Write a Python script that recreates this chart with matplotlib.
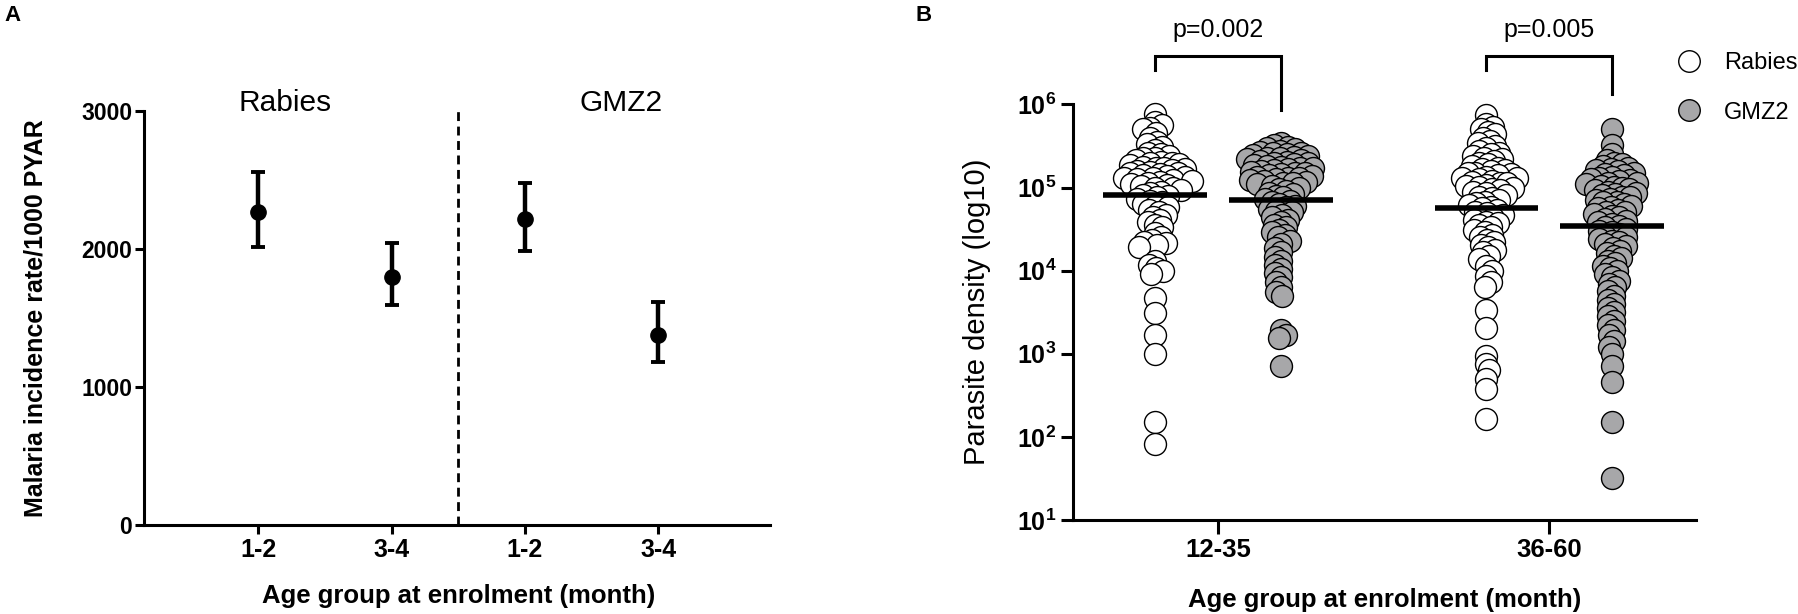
import numpy as np
import matplotlib
matplotlib.use('Agg')
import matplotlib.pyplot as plt
from matplotlib.lines import Line2D
from matplotlib.ticker import FixedLocator, FuncFormatter, NullLocator

plt.rcParams['font.family'] = ['Liberation Sans', 'DejaVu Sans']
plt.rcParams['mathtext.fontset'] = 'custom'
plt.rcParams['mathtext.rm'] = 'Liberation Sans'
plt.rcParams['mathtext.bf'] = 'Liberation Sans:bold'

# ---------------- Panel A data ----------------
a_group_names = ['Rabies', 'GMZ2']
a_ticklabels = ['1-2', '3-4', '1-2', '3-4']
a_rate = [2270, 1800, 2215, 1380]
a_low = [2015, 1595, 1985, 1185]
a_high = [2560, 2045, 2480, 1615]

# ---------------- Panel B data (log10 parasite density) ----------------
b_categories = ['12-35', '36-60']
b_series = ['Rabies', 'GMZ2']
rabies_12_35_log = [
    5.89, 5.79, 5.75, 5.72, 5.70, 5.66, 5.60, 5.55, 5.52, 5.49,
    5.45, 5.42, 5.40, 5.38, 5.36, 5.35, 5.33, 5.31, 5.30, 5.29,
    5.28, 5.27, 5.25, 5.24, 5.23, 5.22, 5.21, 5.20, 5.19, 5.18,
    5.17, 5.16, 5.15, 5.14, 5.13, 5.12, 5.11, 5.10, 5.09, 5.08,
    5.07, 5.05, 5.04, 5.03, 5.02, 5.00, 4.99, 4.97, 4.95, 4.93,
    4.91, 4.90, 4.88, 4.86, 4.84, 4.82, 4.80, 4.78, 4.76, 4.73,
    4.70, 4.67, 4.64, 4.61, 4.58, 4.55, 4.52, 4.45, 4.40, 4.37,
    4.35, 4.33, 4.31, 4.29, 4.12, 4.07, 4.03, 4.00, 3.96, 3.67,
    3.49, 3.23, 3.00, 2.18, 1.92]
gmz2_12_35_log = [
    5.53, 5.51, 5.49, 5.47, 5.46, 5.44, 5.43, 5.42, 5.41, 5.40,
    5.39, 5.38, 5.37, 5.36, 5.35, 5.34, 5.33, 5.32, 5.31, 5.30,
    5.29, 5.28, 5.27, 5.26, 5.25, 5.24, 5.23, 5.22, 5.21, 5.20,
    5.19, 5.18, 5.17, 5.16, 5.15, 5.14, 5.13, 5.12, 5.11, 5.10,
    5.09, 5.08, 5.07, 5.06, 5.05, 5.04, 5.02, 5.00, 4.98, 4.96,
    4.94, 4.92, 4.90, 4.88, 4.86, 4.84, 4.82, 4.80, 4.78, 4.76,
    4.74, 4.72, 4.70, 4.67, 4.64, 4.61, 4.58, 4.55, 4.52, 4.49,
    4.46, 4.43, 4.40, 4.36, 4.32, 4.27, 4.22, 4.17, 4.12, 4.07,
    4.02, 3.97, 3.92, 3.86, 3.80, 3.74, 3.69, 3.29, 3.22, 3.19,
    2.85]
rabies_36_60_log = [
    5.87, 5.76, 5.73, 5.70, 5.67, 5.64, 5.60, 5.56, 5.53, 5.50,
    5.47, 5.44, 5.42, 5.40, 5.38, 5.36, 5.34, 5.32, 5.30, 5.28,
    5.26, 5.24, 5.22, 5.21, 5.20, 5.18, 5.17, 5.16, 5.15, 5.13,
    5.12, 5.11, 5.10, 5.08, 5.07, 5.06, 5.05, 5.03, 5.02, 5.01,
    5.00, 4.98, 4.97, 4.95, 4.93, 4.91, 4.89, 4.87, 4.85, 4.83,
    4.81, 4.79, 4.77, 4.75, 4.73, 4.71, 4.69, 4.67, 4.65, 4.63,
    4.61, 4.59, 4.57, 4.55, 4.52, 4.49, 4.46, 4.43, 4.40, 4.37,
    4.34, 4.31, 4.28, 4.25, 4.22, 4.18, 4.14, 4.05, 3.99, 3.93,
    3.86, 3.80, 3.53, 3.31, 2.97, 2.88, 2.80, 2.70, 2.58, 2.22]
gmz2_36_60_log = [
    5.70, 5.51, 5.40, 5.33, 5.30, 5.28, 5.26, 5.24, 5.22, 5.21,
    5.20, 5.18, 5.16, 5.15, 5.13, 5.12, 5.10, 5.09, 5.08, 5.06,
    5.05, 5.04, 5.02, 5.01, 5.00, 4.98, 4.97, 4.95, 4.94, 4.92,
    4.91, 4.89, 4.88, 4.86, 4.85, 4.83, 4.82, 4.80, 4.78, 4.77,
    4.75, 4.73, 4.71, 4.70, 4.68, 4.66, 4.64, 4.62, 4.60, 4.58,
    4.56, 4.54, 4.52, 4.50, 4.48, 4.46, 4.44, 4.42, 4.40, 4.38,
    4.36, 4.34, 4.32, 4.30, 4.27, 4.24, 4.21, 4.18, 4.15, 4.12,
    4.09, 4.06, 4.03, 4.00, 3.96, 3.92, 3.88, 3.84, 3.80, 3.75,
    3.70, 3.65, 3.60, 3.55, 3.50, 3.45, 3.40, 3.35, 3.29, 3.22,
    3.15, 3.08, 3.00, 2.85, 2.66, 2.18, 1.50]
b_medians = [8.2e4, 7.0e4, 5.6e4, 3.45e4]   # Rabies 12-35, GMZ2 12-35, Rabies 36-60, GMZ2 36-60
p_labels = ['p=0.002', 'p=0.005']

GREY = '#a7a7a9'

# ---------------- Figure ----------------
fig = plt.figure(figsize=(17.99, 6.14), dpi=100)
SP = 2.2

# ---------------- Panel A ----------------
axA = fig.add_axes([0.080, 0.145, 0.348, 0.674])
xA = np.arange(len(a_rate))
rate = np.array(a_rate)
yerr = [rate - np.array(a_low), np.array(a_high) - rate]
axA.errorbar(xA, rate, yerr=yerr, fmt='o', color='black', ms=11,
             elinewidth=3.2, capsize=5, capthick=2.8, zorder=3)
axA.set_xlim(-0.86, 3.84)
axA.set_ylim(0, 3000)
axA.plot([1.5, 1.5], [0, 3000], color='black', lw=2, ls=(0, (3.2, 2.0)), zorder=2)
axA.text(0.2, 3060, a_group_names[0], fontsize=21.5, ha='center', va='center', clip_on=False)
axA.text(2.72, 3060, a_group_names[1], fontsize=21.5, ha='center', va='center', clip_on=False)
axA.set_xticks(xA)
axA.set_xticklabels(a_ticklabels)
axA.set_yticks([0, 1000, 2000, 3000])
for s in ['top', 'right']:
    axA.spines[s].set_visible(False)
for s in ['left', 'bottom']:
    axA.spines[s].set_linewidth(SP)
axA.tick_params(axis='y', width=SP, length=6.5, pad=2, labelsize=16.5)
axA.tick_params(axis='x', width=SP, length=6.5, pad=3, labelsize=18)
for lab in axA.get_xticklabels() + axA.get_yticklabels():
    lab.set_fontweight('bold')
axA.set_ylabel('Malaria incidence rate/1000 PYAR', fontsize=18, fontweight='bold')
axA.yaxis.set_label_coords(-0.1725, 0.5)
axA.yaxis.label.set_verticalalignment('center')
axA.set_xlabel('Age group at enrolment (month)', fontsize=18.5, fontweight='bold')
axA.xaxis.set_label_coords(0.503, -0.172)
axA.xaxis.label.set_verticalalignment('center')

# ---------------- Panel B ----------------
axB = fig.add_axes([0.5964, 0.153, 0.3464, 0.677])
axB.set_yscale('log')
axB.set_xlim(-0.438, 1.444)
axB.set_ylim(10, 1e6)
xB = np.arange(len(b_categories))
OFF = 0.19

groups = [
    (rabies_12_35_log, xB[0] - OFF, 'white'),
    (gmz2_12_35_log, xB[0] + OFF, GREY),
    (rabies_36_60_log, xB[1] - OFF, 'white'),
    (gmz2_36_60_log, xB[1] + OFF, GREY),
]

px_per_x = axB.transData.transform((1, 10))[0] - axB.transData.transform((0, 10))[0]


def swarm_offsets(values, D):
    vals = 10 ** np.asarray(values)
    ypix = axB.transData.transform(np.column_stack([np.ones(len(vals)), vals]))[:, 1]
    order = np.argsort(-ypix)
    px_l, py_l = [], []
    offs = np.zeros(len(vals))
    for k, i in enumerate(order):
        y = ypix[i]
        cands = [0.0]
        for px, py in zip(px_l, py_l):
            dy = y - py
            if abs(dy) < D:
                dx = np.sqrt(D * D - dy * dy)
                cands += [px + dx, px - dx]
        sgn = 1 if k % 2 == 0 else -1
        cands = sorted(cands, key=lambda c: (round(abs(c), 3), -sgn * np.sign(c)))
        chosen = 0.0
        for c in cands:
            if all((c - px) ** 2 + (y - py) ** 2 >= D * D - 1e-6 for px, py in zip(px_l, py_l)):
                chosen = c
                break
        offs[i] = chosen
        px_l.append(chosen)
        py_l.append(y)
    return offs / px_per_x


MS = 250
for vals, xc, fc in groups:
    offs = swarm_offsets(vals, 7.5)
    axB.scatter(xc + offs, 10 ** np.asarray(vals), s=MS, facecolor=fc,
                edgecolor='black', linewidth=1.0, zorder=3, clip_on=False)

centers = [xB[0] - OFF, xB[0] + OFF, xB[1] - OFF, xB[1] + OFF]
for xc, med in zip(centers, b_medians):
    axB.plot([xc - 0.156, xc + 0.156], [med, med], color='black', lw=4, zorder=5,
             solid_capstyle='butt')

# significance brackets
bracket_right_bottom = [8.6e5, 1.34e6]
for i, p in enumerate(p_labels):
    xl, xr = xB[i] - OFF, xB[i] + OFF
    axB.plot([xl, xl, xr, xr], [2.6e6, 3.8e6, 3.8e6, bracket_right_bottom[i]],
             color='black', lw=2.2, clip_on=False, solid_joinstyle='miter')
    axB.text((xl + xr) / 2, 7.8e6, p, fontsize=18, ha='center', va='center', clip_on=False)

for s in ['top', 'right']:
    axB.spines[s].set_visible(False)
for s in ['left', 'bottom']:
    axB.spines[s].set_linewidth(SP)
axB.set_xticks(xB)
axB.set_xticklabels(b_categories)
axB.yaxis.set_major_locator(FixedLocator([10.0 ** k for k in range(1, 7)]))
axB.yaxis.set_minor_locator(NullLocator())
axB.yaxis.set_major_formatter(FuncFormatter(lambda v, pos: r'$\mathbf{10^{%d}}$' % round(np.log10(v))))
axB.tick_params(axis='y', width=SP, length=9, pad=3, labelsize=18)
axB.tick_params(axis='x', width=SP, length=10, pad=3, labelsize=18.5)
for lab in axB.get_xticklabels():
    lab.set_fontweight('bold')
axB.set_ylabel('Parasite density (log10)', fontsize=21)
axB.yaxis.set_label_coords(-0.154, 0.5)
axB.yaxis.label.set_verticalalignment('center')
axB.set_xlabel('Age group at enrolment (month)', fontsize=18.5, fontweight='bold')
axB.xaxis.set_label_coords(0.5, -0.193)
axB.xaxis.label.set_verticalalignment('center')

handles = [Line2D([], [], marker='o', ls='none', ms=15.5, markerfacecolor='white',
                  markeredgecolor='black', markeredgewidth=1.0),
           Line2D([], [], marker='o', ls='none', ms=15.5, markerfacecolor=GREY,
                  markeredgecolor='black', markeredgewidth=1.0)]
fig.legend(handles, b_series, loc='upper left', bbox_to_anchor=(0.927, 0.930),
           bbox_transform=fig.transFigure, frameon=False, fontsize=17,
           handlelength=1.0, handletextpad=1.0, labelspacing=1.15, borderaxespad=0)

fig.text(0.0067, 0.974, 'A', fontsize=16, fontweight='bold', ha='center', va='center')
fig.text(0.5136, 0.974, 'B', fontsize=16, fontweight='bold', ha='center', va='center')

fig.savefig('out.png', dpi=100)
